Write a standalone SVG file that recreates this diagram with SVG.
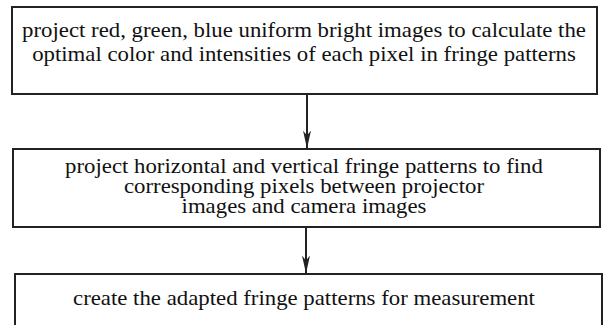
<svg xmlns="http://www.w3.org/2000/svg" width="603" height="325" viewBox="0 0 603 325">
  <style>
    .box { fill: #fff; stroke: #222; stroke-width: 2; }
    .lbl { font-family: Liberation Serif, serif; font-size: 20px; fill: #111; text-anchor: middle; }
    .edge { stroke: #222; stroke-width: 2; fill: none; }
  </style>
  <defs>
    <marker id="arrow" viewBox="0 0 18 8" refX="17.5" refY="4" markerWidth="18" markerHeight="8" markerUnits="userSpaceOnUse" orient="auto">
      <path d="M0,0 L18,4 L0,8 L5,4 Z" fill="#222"/>
    </marker>
  </defs>
  <rect width="603" height="325" fill="#fff"/>

  <!-- labels are set in a wide serif: Times metrics stretched horizontally -->
  <g id="node-uniform">
    <rect class="box" x="12" y="7" width="585" height="87"/>
    <g transform="translate(304,0) scale(1.14,1)">
      <text class="lbl" x="0" y="37">project red, green, blue uniform bright images to calculate the</text>
      <text class="lbl" x="0" y="61">optimal color and intensities of each pixel in fringe patterns</text>
    </g>
  </g>

  <g id="node-fringe">
    <rect class="box" x="13" y="149" width="587" height="78"/>
    <g transform="translate(304,0) scale(1.14,1)">
      <text class="lbl" x="0" y="173">project horizontal and vertical fringe patterns to find</text>
      <text class="lbl" x="0" y="193">corresponding pixels between projector</text>
      <text class="lbl" x="0" y="213">images and camera images</text>
    </g>
  </g>

  <g id="node-adapted">
    <rect class="box" x="15" y="274" width="587" height="60"/>
    <g transform="translate(304,0) scale(1.14,1)">
      <text class="lbl" x="0" y="305">create the adapted fringe patterns for measurement</text>
    </g>
  </g>

  <g id="connectors">
    <line class="edge" x1="307" y1="94" x2="307" y2="148" marker-end="url(#arrow)"/>
    <line class="edge" x1="306" y1="227" x2="306" y2="273" marker-end="url(#arrow)"/>
  </g>
</svg>
